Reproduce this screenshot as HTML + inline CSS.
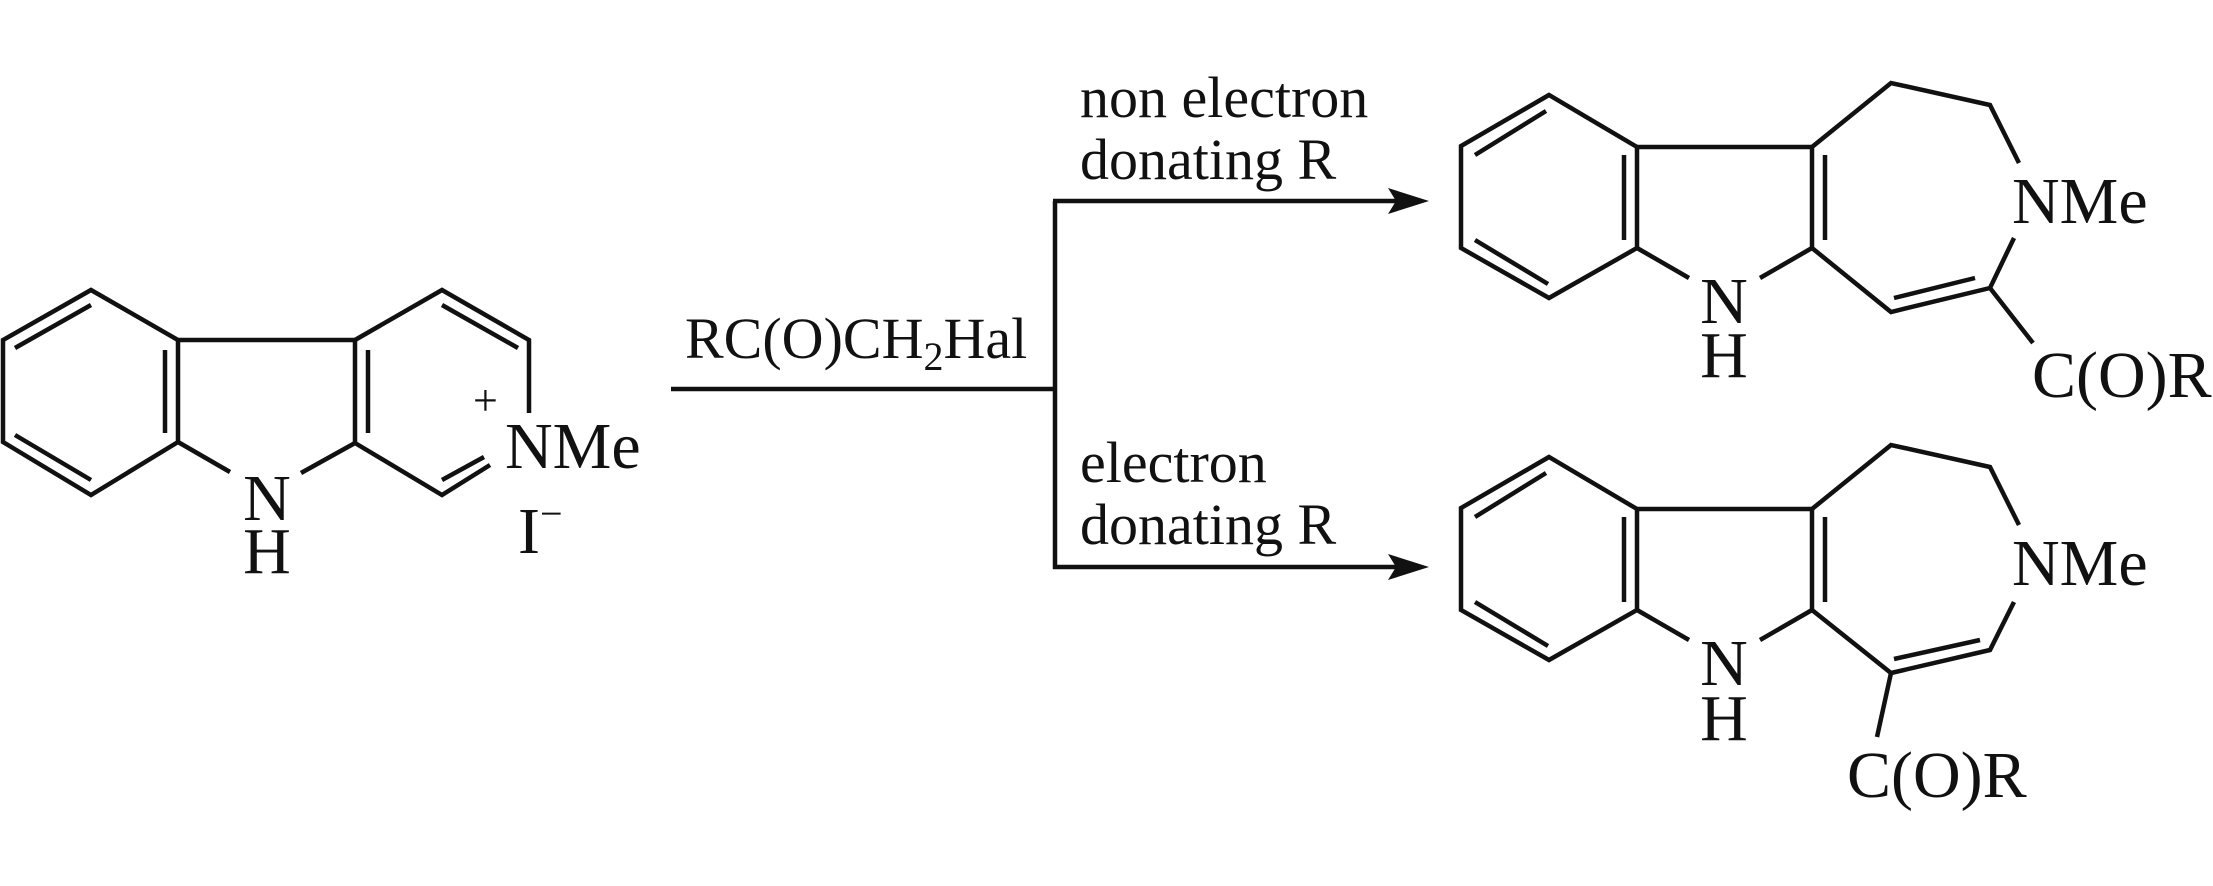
<!DOCTYPE html>
<html><head><meta charset="utf-8"><style>
html,body{margin:0;padding:0;background:#fff;}
svg{display:block;}
text{font-family:"Liberation Serif","Times New Roman",serif;fill:#111;}
</style></head><body>
<svg width="2213" height="886" viewBox="0 0 2213 886" xmlns="http://www.w3.org/2000/svg">
<g stroke="#111" stroke-width="4.5" fill="none" stroke-linejoin="miter" stroke-linecap="butt">
<!-- Left molecule -->
<polygon points="91,290 3,340 3,442 91,495 178,442 178,340"/>
<line x1="15" y1="348" x2="91" y2="305"/>
<line x1="15" y1="435" x2="91" y2="480"/>
<line x1="165" y1="350" x2="165" y2="433"/>
<line x1="178" y1="340" x2="355" y2="340"/>
<line x1="355" y1="340" x2="355" y2="443"/>
<line x1="368" y1="350" x2="368" y2="433"/>
<line x1="178" y1="442" x2="230" y2="472"/>
<line x1="355" y1="443" x2="301" y2="473"/>
<polyline points="355,340 442,290 529,340 529,413"/>
<line x1="442" y1="305" x2="518" y2="348"/>
<polyline points="355,443 442,495 490,465"/>
<line x1="442" y1="480" x2="484" y2="457"/>

<!-- Arrows -->
<line x1="671" y1="389" x2="1055" y2="389"/>
<line x1="1055" y1="201" x2="1055" y2="569"/>
<line x1="1053" y1="201" x2="1405" y2="201"/>
<line x1="1053" y1="567" x2="1405" y2="567"/>

<!-- Top product -->
<polygon points="1549,95 1461,146 1461,248 1549,298 1637,248 1637,147"/>
<line x1="1475" y1="155" x2="1546" y2="111"/>
<line x1="1475" y1="240" x2="1548" y2="284"/>
<line x1="1624" y1="155" x2="1624" y2="240"/>
<line x1="1637" y1="147" x2="1812" y2="147"/>
<line x1="1812" y1="147" x2="1812" y2="248"/>
<line x1="1825" y1="155" x2="1825" y2="240"/>
<line x1="1637" y1="248" x2="1689" y2="278"/>
<line x1="1812" y1="248" x2="1760" y2="278"/>
<polyline points="1812,147 1891,83 1990,105 2019,163"/>
<polyline points="2014,238 1990,288 1891,312 1812,248"/>
<line x1="1894" y1="298" x2="1975" y2="278"/>
<line x1="1990" y1="288" x2="2033" y2="343"/>

<!-- Bottom product -->
<polygon points="1549,457 1461,508 1461,610 1549,660 1637,610 1637,509"/>
<line x1="1475" y1="517" x2="1546" y2="473"/>
<line x1="1475" y1="602" x2="1548" y2="646"/>
<line x1="1624" y1="517" x2="1624" y2="602"/>
<line x1="1637" y1="509" x2="1812" y2="509"/>
<line x1="1812" y1="509" x2="1812" y2="610"/>
<line x1="1825" y1="517" x2="1825" y2="602"/>
<line x1="1637" y1="610" x2="1689" y2="640"/>
<line x1="1812" y1="610" x2="1760" y2="640"/>
<polyline points="1812,509 1891,445 1990,467 2019,525"/>
<polyline points="2014,602 1990,650 1891,673 1812,610"/>
<line x1="1894" y1="659" x2="1980" y2="640"/>
<line x1="1891" y1="673" x2="1877" y2="737"/>
</g>
<g fill="#111" stroke="none">
<polygon points="1429,201 1388,188 1396,201 1388,214"/>
<polygon points="1429,567 1388,554 1396,567 1388,580"/>
</g>

<g font-size="66">
<text x="267" y="520" text-anchor="middle">N</text>
<text x="267" y="573" text-anchor="middle">H</text>
<text x="473" y="415" font-size="44">+</text>
<text x="505" y="468">NMe</text>
<text x="518" y="553">I<tspan font-size="40" dy="-26">−</tspan></text>

<text x="1724" y="323" text-anchor="middle">N</text>
<text x="1724" y="377" text-anchor="middle">H</text>
<text x="2012" y="223">NMe</text>
<text x="2032" y="397">C(O)R</text>

<text x="1724" y="685" text-anchor="middle">N</text>
<text x="1724" y="740" text-anchor="middle">H</text>
<text x="2012" y="585">NMe</text>
<text x="1847" y="797">C(O)R</text>
</g>

<g font-size="58">
<text x="685" y="358">RC(O)CH<tspan font-size="40" dy="12">2</tspan><tspan dy="-12">Hal</tspan></text>
<text x="1080" y="117">non electron</text>
<text x="1080" y="179">donating R</text>
<text x="1080" y="482">electron</text>
<text x="1080" y="544">donating R</text>
</g>
</svg>
</body></html>
